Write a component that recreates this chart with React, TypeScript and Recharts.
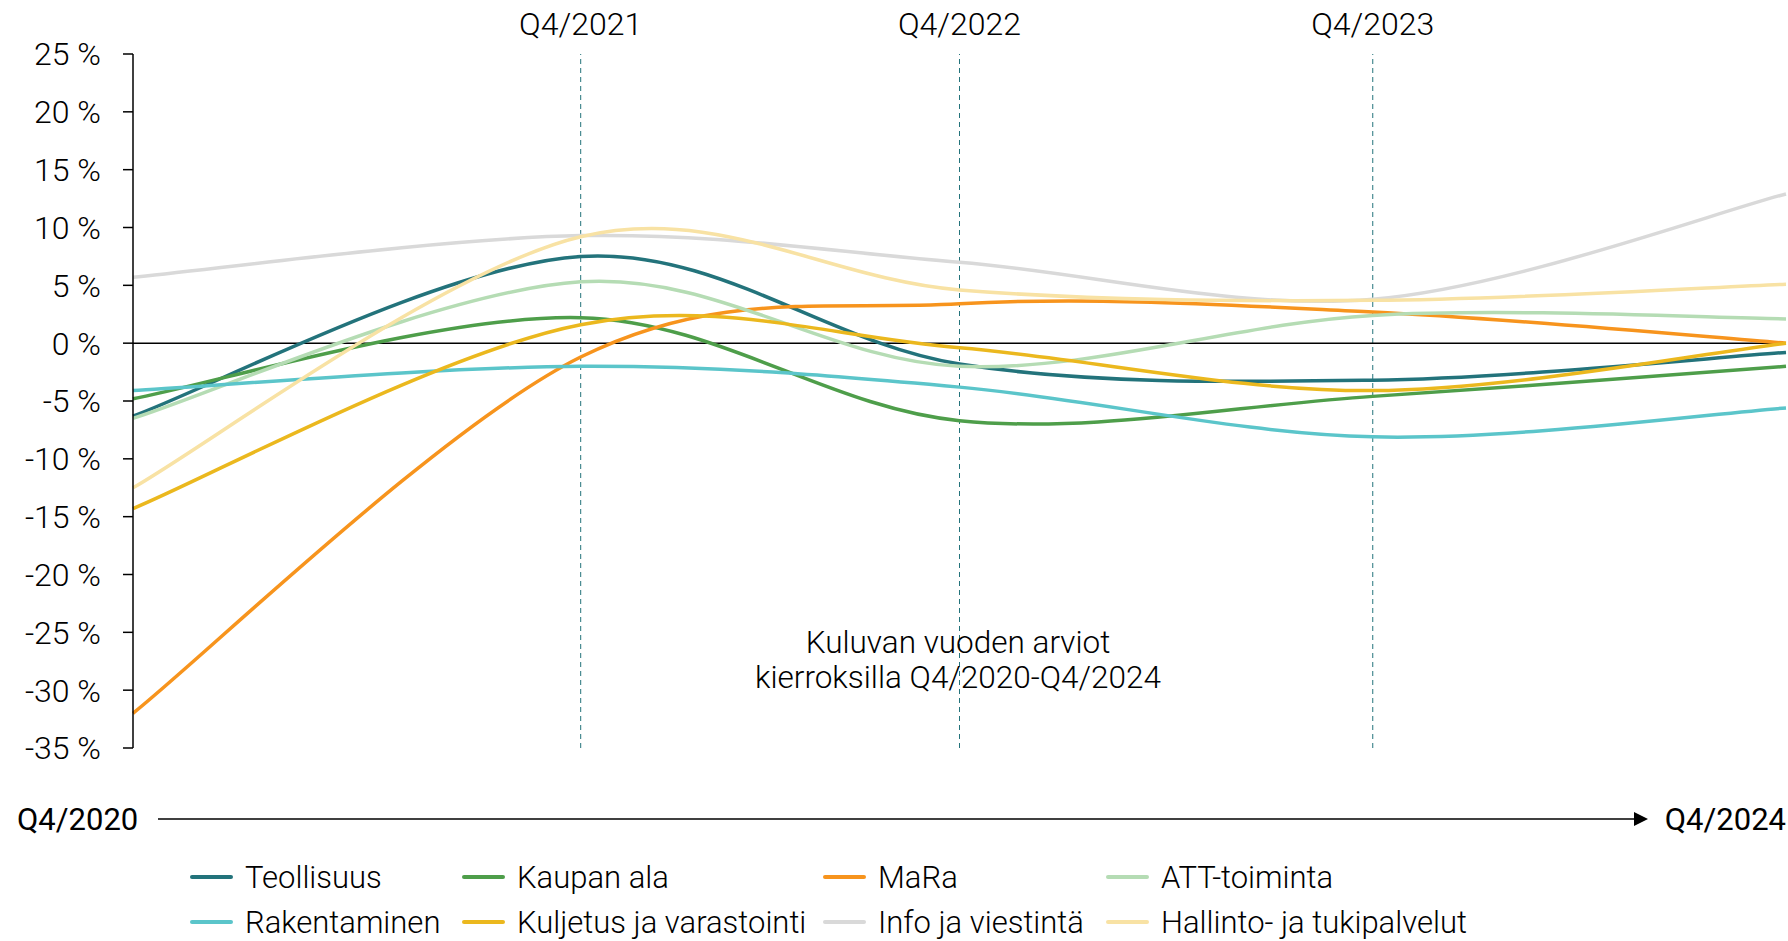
import { LineChart, Line, XAxis, YAxis, ReferenceLine } from 'recharts'

// kierrokset kuukausina Q4/2020:sta lähtien
const rounds = [0, 13, 24, 36, 48]
const roundLabels = ['Q4/2020', 'Q4/2021', 'Q4/2022', 'Q4/2023', 'Q4/2024']
const yTicks = [-35, -30, -25, -20, -15, -10, -5, 0, 5, 10, 15, 20, 25]

const teollisuus = [-6.3, 7.5, -1.8, -3.2, -0.8]
const kaupanAla = [-4.8, 2.2, -6.7, -4.6, -2.0]
const mara = [-32.0, -1.2, 3.4, 2.7, 0.0]
const att = [-6.5, 5.3, -2.0, 2.4, 2.1]
const rakentaminen = [-4.1, -2.0, -3.8, -8.1, -5.6]
const kuljetus = [-14.3, 1.6, -0.4, -4.1, 0.0]
const info = [5.7, 9.3, 7.0, 3.8, 12.9]
const hallinto = [-12.5, 9.2, 4.6, 3.7, 5.1]

const series = [
  { key: 'teollisuus', name: 'Teollisuus', color: '#23737b', values: teollisuus },
  { key: 'kaupan', name: 'Kaupan ala', color: '#4e9e4a', values: kaupanAla },
  { key: 'mara', name: 'MaRa', color: '#f7941d', values: mara },
  { key: 'att', name: 'ATT-toiminta', color: '#b5dcb4', values: att },
  { key: 'rak', name: 'Rakentaminen', color: '#5bc5ca', values: rakentaminen },
  { key: 'kulj', name: 'Kuljetus ja varastointi', color: '#ebb81e', values: kuljetus },
  { key: 'info', name: 'Info ja viestintä', color: '#d9d9d9', values: info },
  { key: 'hallinto', name: 'Hallinto- ja tukipalvelut', color: '#f8e2a4', values: hallinto },
]

const data = rounds.map((m, i) => {
  const row: Record<string, number | string> = { m, label: roundLabels[i] }
  series.forEach((s) => (row[s.key] = s.values[i]))
  return row
})

// Excelin tyylinen pehmennys (Catmull-Rom bezier)
function smoothCurve(context: any) {
  let xs: number[] = []
  let ys: number[] = []
  return {
    areaStart() {},
    areaEnd() {},
    lineStart() {
      xs = []
      ys = []
    },
    point(x: number, y: number) {
      xs.push(+x)
      ys.push(+y)
    },
    lineEnd() {
      const n = xs.length
      if (!n) return
      context.moveTo(xs[0], ys[0])
      for (let i = 0; i < n - 1; i++) {
        const a = Math.max(i - 1, 0)
        const d = Math.min(i + 2, n - 1)
        const c1x = xs[i] + (xs[i + 1] - xs[a]) / 6
        const c1y = ys[i] + (ys[i + 1] - ys[a]) / 6
        const c2x = xs[i + 1] - (xs[d] - xs[i]) / 6
        const c2y = ys[i + 1] - (ys[d] - ys[i]) / 6
        context.bezierCurveTo(c1x, c1y, c2x, c2y, xs[i + 1], ys[i + 1])
      }
    },
  }
}

const font = 'Roboto, "Liberation Sans", sans-serif'

export default function App() {
  return (
    <div style={{ position: 'relative', width: 1788, height: 941, fontFamily: font, fontWeight: 300, color: '#000' }}>
      <style>{'body{margin:0}'}</style>
      <LineChart width={1788} height={941} data={data} margin={{ top: 54, right: 2, bottom: 193, left: 0 }}>
        <XAxis dataKey="m" type="number" domain={[0, 48]} hide />
        <YAxis
          domain={[-35, 25]}
          ticks={yTicks}
          width={133}
          tickSize={10}
          tickMargin={22}
          tickFormatter={(v) => `${v} %`}
          axisLine={{ stroke: '#000', strokeWidth: 1.5 }}
          tickLine={{ stroke: '#000', strokeWidth: 1.5 }}
          tick={{ fill: '#000', fontSize: 32, fontFamily: font, fontWeight: 300 }}
          interval={0}
        />
        {rounds.slice(1, 4).map((m, i) => (
          <ReferenceLine
            key={m}
            x={m}
            stroke="#23737b"
            strokeWidth={1}
            strokeDasharray="5 4"
            label={{ value: roundLabels[i + 1], position: 'top', offset: 19, fill: '#000', fontSize: 32, fontFamily: font, fontWeight: 300 }}
          />
        ))}
        <ReferenceLine y={0} stroke="#000" strokeWidth={1.5} />
        {series.map((s) => (
          <Line
            key={s.key}
            dataKey={s.key}
            name={s.name}
            type={smoothCurve as any}
            stroke={s.color}
            strokeWidth={3.5}
            dot={false}
            activeDot={false}
            isAnimationActive={false}
          />
        ))}
      </LineChart>
      <svg width={1788} height={941} style={{ position: 'absolute', left: 0, top: 0, pointerEvents: 'none' }}>
        <text x={958} y={642} textAnchor="middle" dominantBaseline="central" fontSize={31.5} fontFamily={font} fontWeight={300}>
          Kuluvan vuoden arviot
        </text>
        <text x={958} y={677} textAnchor="middle" dominantBaseline="central" fontSize={31.5} fontFamily={font} fontWeight={300}>
          kierroksilla Q4/2020-Q4/2024
        </text>
        <text x={17} y={819} dominantBaseline="central" fontSize={31} fontFamily={font} fontWeight={400}>
          {roundLabels[0]}
        </text>
        <line x1={158} y1={819} x2={1636} y2={819} stroke="#000" strokeWidth={1.5} />
        <path d="M1634 812 L1648 819 L1634 826 Z" fill="#000" />
        <text x={1786} y={819} textAnchor="end" dominantBaseline="central" fontSize={31} fontFamily={font} fontWeight={400}>
          {roundLabels[4]}
        </text>
      </svg>
      <div
        style={{
          position: 'absolute',
          left: 190,
          top: 857,
          display: 'grid',
          gridTemplateColumns: '272px 361px 283px 400px',
          rowGap: 5,
          fontSize: 31,
        }}
      >
        {series.map((s) => (
          <div key={s.key} style={{ display: 'flex', alignItems: 'center', height: 40, whiteSpace: 'nowrap' }}>
            <span style={{ display: 'inline-block', width: 43, height: 4, borderRadius: 2, background: s.color, marginRight: 12 }} />
            {s.name}
          </div>
        ))}
      </div>
    </div>
  )
}
